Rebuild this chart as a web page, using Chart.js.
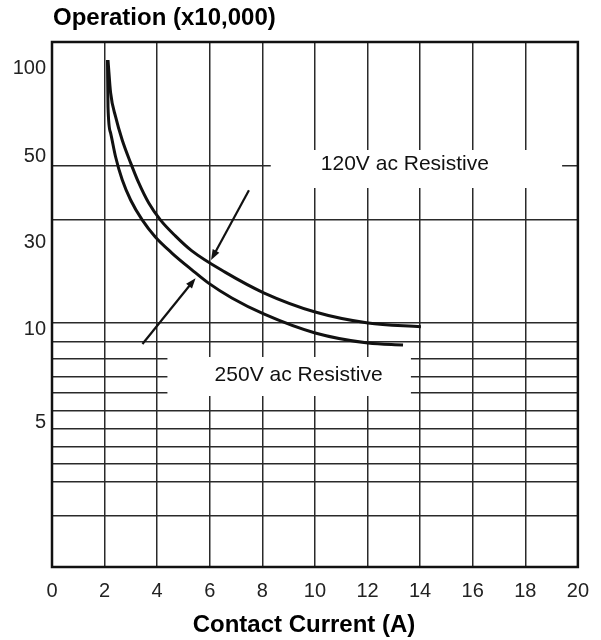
<!DOCTYPE html>
<html lang="en">
<head>
<meta charset="UTF-8">
<title>Operation vs Contact Current</title>
<script src="https://cdn.jsdelivr.net/npm/chart.js"></script>
<style>
  html, body { margin: 0; padding: 0; background: #fff; }
</style>
</head>
<body>
<canvas id="lifeChart" width="601" height="640"></canvas>

<script>
// printed y scale (x10,000 operations): labels and where they sit (0 = bottom, 525 = top)
const yLabels = [100, 50, 30, 10, 5];
const yLabelPos = [499, 411, 325, 238, 145];
const yGridPos = [401, 347, 244, 225, 208, 190, 174, 156, 138, 120, 103, 85, 51];
const yMax = 525;

// x ticks (A)
const xTicks = [0, 2, 4, 6, 8, 10, 12, 14, 16, 18, 20];

// 120V ac resistive curve
const current120 = [2.13, 2.23, 2.42, 2.67, 2.99, 3.30, 3.68, 4.12, 4.69, 5.32, 6.58, 8.05, 10.01, 12.02, 14.03];
const ops120 = [106.5, 82.1, 68.0, 56.7, 48.0, 42.6, 37.8, 34.2, 31.1, 26.8, 20.5, 15.8, 12.4, 10.8, 10.3];

// 250V ac resistive curve
const current250 = [2.11, 2.13, 2.23, 2.42, 2.67, 2.99, 3.43, 3.93, 4.56, 5.32, 5.94, 6.84, 8.05, 10.01, 12.02, 13.35];
const ops250 = [106.5, 73.5, 59.9, 49.7, 43.4, 38.5, 34.2, 30.9, 26.1, 21.1, 17.9, 14.8, 12.1, 9.71, 9.01, 8.88];

// arrows: from (A, ops) to (A, ops)
const arrow120 = [7.49, 40.8, 6.05, 23.9];
const arrow250 = [3.44, 8.94, 5.46, 19.0];

const FONT = '"Liberation Sans", Arial, sans-serif';

// the printed scale is not a true log scale, so interpolate between its labels
function opsToPos(v) {
    let i = 0;
    while (i < yLabels.length - 2 && v < yLabels[i + 1]) i++;
    const a = yLabels[i], b = yLabels[i + 1];
    const t = Math.log(a / v) / Math.log(a / b);
    return yLabelPos[i] + t * (yLabelPos[i + 1] - yLabelPos[i]);
}

function toPoints(xs, ys) {
    return xs.map((x, i) => ({ x: x, y: opsToPos(ys[i]) }));
}

// label boxes, in data units: text centre, box x range, box y range (axis units)
const notes = [
    { text: '120V ac Resistive', x: 13.42, y: 403, x0: 8.32, x1: 19.4, y0: 379, y1: 417 },
    { text: '250V ac Resistive', x: 9.38, y: 192, x0: 4.39, x1: 13.65, y0: 171, y1: 210 }
];

const overlay = {
    id: 'overlay',
    beforeDatasetsDraw(chart) {
        const ctx = chart.ctx, sx = chart.scales.x, sy = chart.scales.y;
        ctx.save();
        ctx.fillStyle = '#fff';
        notes.forEach(n => {
            const l = sx.getPixelForValue(n.x0), r = sx.getPixelForValue(n.x1);
            const t = sy.getPixelForValue(n.y1), b = sy.getPixelForValue(n.y0);
            ctx.fillRect(l, t, r - l, b - t);
        });
        ctx.fillStyle = '#111';
        ctx.font = '21px ' + FONT;
        ctx.textAlign = 'center';
        ctx.textBaseline = 'middle';
        notes.forEach(n => {
            ctx.fillText(n.text, sx.getPixelForValue(n.x), sy.getPixelForValue(n.y));
        });
        ctx.restore();
    },
    afterDatasetsDraw(chart) {
        const ctx = chart.ctx, sx = chart.scales.x, sy = chart.scales.y;
        const area = chart.chartArea;
        ctx.save();
        // arrows
        [arrow120, arrow250].forEach(a => {
            const x1 = sx.getPixelForValue(a[0]), y1 = sy.getPixelForValue(opsToPos(a[1]));
            const x2 = sx.getPixelForValue(a[2]), y2 = sy.getPixelForValue(opsToPos(a[3]));
            const ang = Math.atan2(y2 - y1, x2 - x1);
            const head = 11;
            ctx.strokeStyle = '#111';
            ctx.fillStyle = '#111';
            ctx.lineWidth = 2.2;
            ctx.beginPath();
            ctx.moveTo(x1, y1);
            ctx.lineTo(x2 - Math.cos(ang) * head * 0.8, y2 - Math.sin(ang) * head * 0.8);
            ctx.stroke();
            ctx.beginPath();
            ctx.moveTo(x2, y2);
            ctx.lineTo(x2 - head * Math.cos(ang - 0.35), y2 - head * Math.sin(ang - 0.35));
            ctx.lineTo(x2 - head * Math.cos(ang + 0.35), y2 - head * Math.sin(ang + 0.35));
            ctx.closePath();
            ctx.fill();
        });
        // frame
        ctx.strokeStyle = '#111';
        ctx.lineWidth = 2.5;
        ctx.strokeRect(area.left, area.top, area.right - area.left, area.bottom - area.top);
        // titles
        ctx.fillStyle = '#000';
        ctx.font = 'bold 24px ' + FONT;
        ctx.textBaseline = 'middle';
        ctx.textAlign = 'left';
        ctx.fillText('Operation (x10,000)', area.left + 1, 18);
        ctx.textAlign = 'center';
        ctx.fillText('Contact Current (A)', 304, 625);
        ctx.restore();
    }
};

new Chart(document.getElementById('lifeChart').getContext('2d'), {
    type: 'line',
    data: {
        datasets: [{
            label: '120V ac Resistive',
            data: toPoints(current120, ops120),
            borderColor: '#111',
            borderWidth: 3,
            pointRadius: 0,
            fill: false,
            cubicInterpolationMode: 'monotone'
        }, {
            label: '250V ac Resistive',
            data: toPoints(current250, ops250),
            borderColor: '#111',
            borderWidth: 3,
            pointRadius: 0,
            fill: false,
            cubicInterpolationMode: 'monotone'
        }]
    },
    options: {
        responsive: false,
        animation: false,
        layout: { padding: { top: 42, right: 20, left: 0, bottom: 0 } },
        plugins: {
            legend: { display: false },
            title: { display: false },
            tooltip: { enabled: false }
        },
        scales: {
            x: {
                type: 'linear',
                min: 0,
                max: 20,
                afterBuildTicks(s) { s.ticks = xTicks.map(v => ({ value: v })); },
                ticks: { color: '#222', font: { size: 20, family: FONT }, padding: 12 },
                grid: { color: '#2a2a2a', lineWidth: 1.5, drawTicks: false },
                border: { display: false },
                afterFit(s) { s.height = 73; }
            },
            y: {
                type: 'linear',
                min: 0,
                max: yMax,
                afterBuildTicks(s) {
                    s.ticks = [...yGridPos, ...yLabelPos].sort((a, b) => a - b).map(v => ({ value: v }));
                },
                ticks: {
                    autoSkip: false,
                    color: '#222',
                    font: { size: 20, family: FONT },
                    padding: 6,
                    callback(value) {
                        const i = yLabelPos.indexOf(value);
                        return i >= 0 ? String(yLabels[i]) : '';
                    }
                },
                grid: {
                    drawTicks: false,
                    lineWidth: 1.5,
                    color(c) {
                        return c.tick && yGridPos.includes(c.tick.value) ? '#2a2a2a' : 'rgba(0,0,0,0)';
                    }
                },
                border: { display: false },
                afterFit(s) { s.width = 52; }
            }
        }
    },
    plugins: [overlay]
});
</script>
</body>
</html>
